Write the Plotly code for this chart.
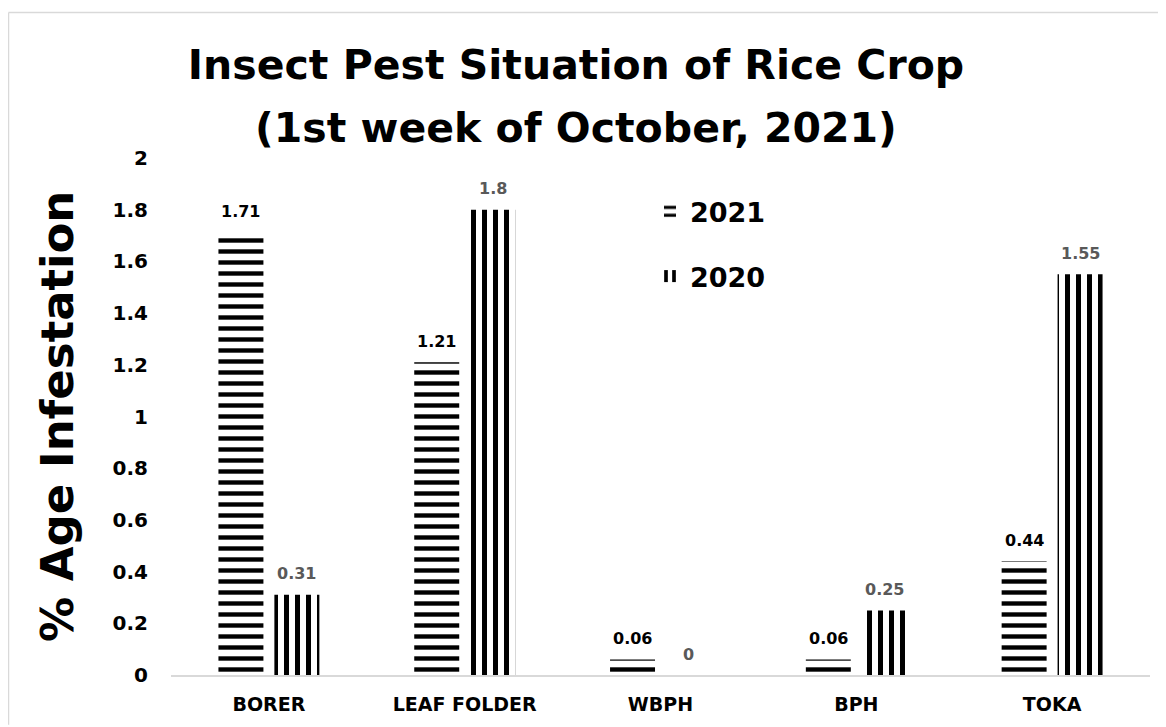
import plotly.graph_objects as go

categories = ["BORER", "LEAF FOLDER", "WBPH", "BPH", "TOKA"]
values_2021 = [1.71, 1.21, 0.06, 0.06, 0.44]
values_2020 = [0.31, 1.80, 0.00, 0.25, 1.55]
y_ticks = [0, 0.2, 0.4, 0.6, 0.8, 1, 1.2, 1.4, 1.6, 1.8, 2]
y_tick_labels = ["0", "0.2", "0.4", "0.6", "0.8", "1", "1.2", "1.4", "1.6", "1.8", "2"]
title_line1 = "Insect Pest Situation of Rice Crop"
title_line2 = "(1st week of October, 2021)"
y_title = "% Age Infestation"

FONT = "DejaVu Sans"
OFF = 8  # page body margin
W, H = 1166 - OFF, 727 - OFF
ML, MT = 171 - OFF, 158 - OFF
PLOT_R, PLOT_B = 1150 - OFF, 677 - OFF
MR, MB = W - PLOT_R, H - PLOT_B
PW = PLOT_R - ML
PH = PLOT_B - MT
BARGAP = 0.4286
GROUPGAP = 0.196
slot_px = PW / len(categories) * (1 - BARGAP) / 2


def px_to_paper_x(sx):
    return (sx - OFF - ML) / PW


def px_to_paper_y(sy):
    return (PLOT_B - (sy - OFF)) / PH


fig = go.Figure()
fig.add_trace(go.Bar(
    x=categories, y=values_2021, name="2021",
    marker=dict(color="white", line=dict(width=0),
                pattern=dict(shape="-", fgcolor="black", bgcolor="white",
                             size=11, solidity=0.4, fillmode="replace")),
    legend="legend", showlegend=True,
))
fig.add_trace(go.Bar(
    x=categories, y=values_2020, name="2020",
    marker=dict(color="white", line=dict(width=0),
                pattern=dict(shape="|", fgcolor="black", bgcolor="white",
                             size=11, solidity=0.46, fillmode="replace")),
    legend="legend2", showlegend=True,
))

annotations = []
for c, v in zip(categories, values_2021):
    annotations.append(dict(x=c, y=v, xref="x", yref="y", text=f"<b>{v:g}</b>",
                            showarrow=False, xshift=-slot_px / 2, yshift=21,
                            yanchor="middle",
                            font=dict(family=FONT, size=16, color="black")))
for c, v in zip(categories, values_2020):
    annotations.append(dict(x=c, y=v, xref="x", yref="y", text=f"<b>{v:g}</b>",
                            showarrow=False, xshift=slot_px / 2, yshift=21,
                            yanchor="middle",
                            font=dict(family=FONT, size=16, color="#595959")))
annotations.append(dict(x=px_to_paper_x(58), y=px_to_paper_y(418), xref="paper", yref="paper",
                        text=f"<b>{y_title}</b>", textangle=-90,
                        showarrow=False, xanchor="center", yanchor="middle",
                        font=dict(family=FONT, size=45, color="black")))
annotations.append(dict(x=px_to_paper_x(576), y=px_to_paper_y(128), xref="paper", yref="paper",
                        text=f"<b>{title_line2}</b>", showarrow=False,
                        xanchor="center", yanchor="middle",
                        font=dict(family=FONT, size=41, color="black")))

# outer frame (top and left edges visible)
x_left = px_to_paper_x(8.5)
x_right = px_to_paper_x(1166)
y_top = px_to_paper_y(12)
y_bot = px_to_paper_y(727)
shapes = [
    dict(type="line", xref="paper", yref="paper", x0=x_left, x1=x_right, y0=y_top, y1=y_top,
         line=dict(color="#d9d9d9", width=1.5)),
    dict(type="line", xref="paper", yref="paper", x0=x_left, x1=x_left, y0=y_top, y1=y_bot,
         line=dict(color="#d9d9d9", width=1.5)),
]

legend_font = dict(family=FONT, size=27, color="black", weight="bold")
fig.update_layout(
    width=W, height=H,
    margin=dict(l=ML, r=MR, t=MT, b=MB),
    paper_bgcolor="white", plot_bgcolor="white",
    showlegend=True,
    barmode="group", bargap=BARGAP, bargroupgap=GROUPGAP,
    title=dict(text=f"<b>{title_line1}</b>",
               x=(576 - OFF) / W, xanchor="center", y=1 - (65 - OFF) / H, yanchor="middle",
               xref="container", yref="container",
               font=dict(family=FONT, size=41, color="black")),
    font=dict(family=FONT, color="black"),
    legend=dict(x=px_to_paper_x(650), y=px_to_paper_y(212), xanchor="left", yanchor="middle",
                font=legend_font, bgcolor="rgba(0,0,0,0)"),
    legend2=dict(x=px_to_paper_x(650), y=px_to_paper_y(277), xanchor="left", yanchor="middle",
                 font=legend_font, bgcolor="rgba(0,0,0,0)"),
    xaxis=dict(showline=True, linecolor="#d9d9d9", linewidth=1.5, showgrid=False,
               ticks="", tickfont=dict(family=FONT, size=19, color="black", weight="bold"),
               ticklabelstandoff=11),
    yaxis=dict(range=[0, 2], tickvals=y_ticks, ticktext=y_tick_labels, showgrid=False,
               zeroline=False, showline=False, ticks="",
               tickfont=dict(family=FONT, size=20, color="black", weight="bold"),
               ticklabelstandoff=22),
    annotations=annotations,
    shapes=shapes,
)

fig.write_html("out.html")
